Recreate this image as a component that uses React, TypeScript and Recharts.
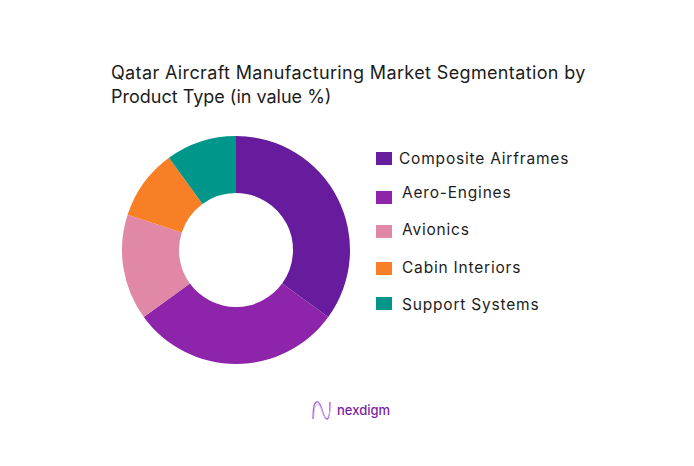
import React from 'react'
import { PieChart, Pie, Cell, Legend } from 'recharts'

const categories = ['Composite Airframes', 'Aero-Engines', 'Avionics', 'Cabin Interiors', 'Support Systems']
const shares = [35, 30, 15, 10, 10]
const colors = ['#661c9c', '#8e24aa', '#e088a5', '#f97f26', '#00978a']
const titleLines = ['Qatar Aircraft Manufacturing Market Segmentation by', 'Product Type (in value %)']
const titleSpacing = [0.36, 0]

const data = categories.map((name, i) => ({ name, value: shares[i] }))

// the legend in the source is hand placed, rows are not quite even
const swatchTop = [152, 191, 225, 262, 297]
const labelTop = [149, 183, 220, 258, 295]
const labelLeft = [399, 402, 402, 402, 402]

const font = 'Inter, sans-serif'

const LegendRows = () => (
  <div>
    {categories.map((name, i) => (
      <React.Fragment key={name}>
        <div style={{ position: 'absolute', left: 376, top: swatchTop[i], width: 16, height: 13, background: colors[i] }} />
        <div style={{ position: 'absolute', left: labelLeft[i], top: labelTop[i], fontSize: 15.5, lineHeight: '20px', letterSpacing: 0.8, color: '#1c1c1c', whiteSpace: 'nowrap' }}>
          {name}
        </div>
      </React.Fragment>
    ))}
  </div>
)

const App = () => {
  return (
    <div style={{ position: 'absolute', left: 0, top: 0, width: 694, height: 466, background: '#fff', fontFamily: font, overflow: 'hidden' }}>
      {titleLines.map((line, i) => (
        <div key={line} style={{ position: 'absolute', left: 111, top: 61 + i * 24, fontSize: 18, lineHeight: '24px', letterSpacing: titleSpacing[i], color: '#1c1c1c', whiteSpace: 'nowrap' }}>
          {line}
        </div>
      ))}
      <PieChart width={694} height={466} margin={{ top: 0, right: 0, bottom: 0, left: 0 }} style={{ position: 'absolute', left: 0, top: 0 }}>
        <Pie
          data={data}
          dataKey="value"
          nameKey="name"
          cx={236}
          cy={250}
          innerRadius={57}
          outerRadius={114}
          startAngle={90}
          endAngle={-270}
          stroke="none"
          isAnimationActive={false}
        >
          {data.map((d, i) => (
            <Cell key={d.name} fill={colors[i]} />
          ))}
        </Pie>
        <Legend content={LegendRows} wrapperStyle={{ left: 0, top: 0, bottom: 'auto', width: 694 }} />
      </PieChart>
      <svg width={22} height={24} viewBox="0 0 22 24" style={{ position: 'absolute', left: 311, top: 399 }}>
        <path d="M2 20 C2 6 4 2 7 3 C11 5 12 20 16 20 C18 20 19 14 19 3" fill="none" stroke="#a35fd6" strokeWidth={1.3} />
        <path d="M3 18 C3 8 5 4 8 6 C11 9 12 18 15 19 C18 19 19 12 20 6" fill="none" stroke="#d9b8ee" strokeWidth={1} />
      </svg>
      <div style={{ position: 'absolute', left: 337, top: 402, fontSize: 13, lineHeight: '17px', fontWeight: 500, color: '#7b1fa2' }}>nexdigm</div>
    </div>
  )
}

export default App
